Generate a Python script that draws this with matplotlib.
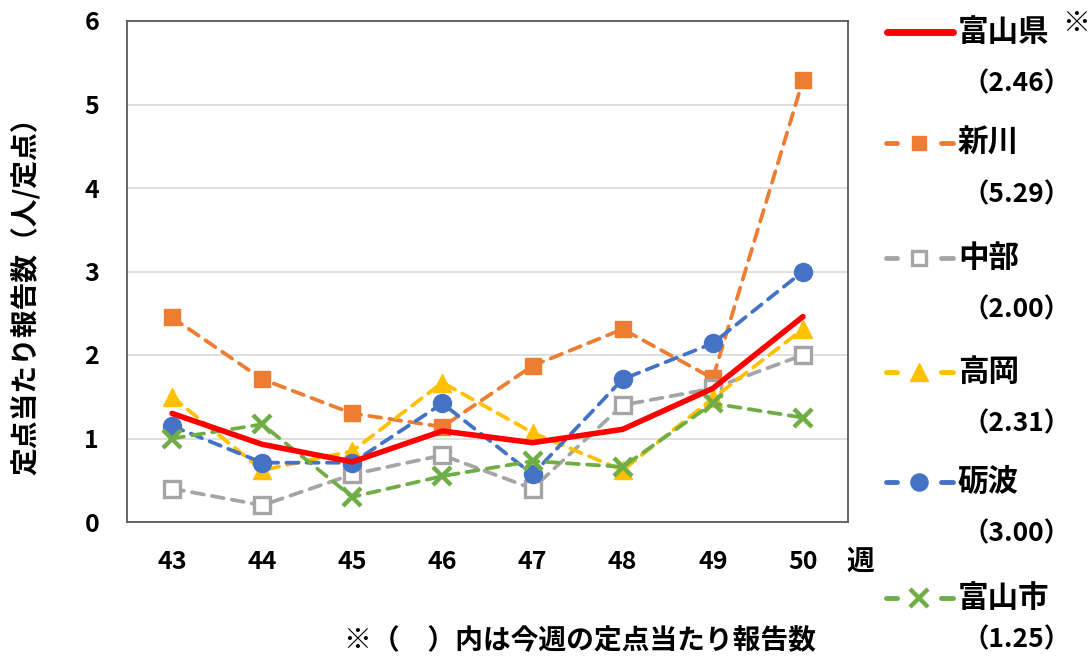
import matplotlib
matplotlib.use("Agg")
import matplotlib.pyplot as plt
from matplotlib.lines import Line2D

plt.rcParams['font.family'] = ['Noto Sans CJK JP', 'DejaVu Sans']

weeks = ["43", "44", "45", "46", "47", "48", "49", "50"]
toyama_pref = [1.30, 0.93, 0.72, 1.09, 0.95, 1.11, 1.60, 2.46]
niikawa = [2.45, 1.71, 1.30, 1.14, 1.87, 2.31, 1.72, 5.29]
chubu = [0.40, 0.20, 0.57, 0.80, 0.40, 1.40, 1.60, 2.00]
takaoka = [1.50, 0.62, 0.85, 1.67, 1.07, 0.62, 1.48, 2.31]
tonami = [1.15, 0.71, 0.71, 1.42, 0.57, 1.71, 2.14, 3.00]
toyama_city = [1.00, 1.17, 0.30, 0.55, 0.73, 0.66, 1.42, 1.25]

names = ["富山県", "新川", "中部", "高岡", "砺波", "富山市"]
latest = ["（2.46）", "（5.29）", "（2.00）", "（2.31）", "（3.00）", "（1.25）"]
ylabel = "定点当たり報告数（人/定点）"
note = "※（　）内は今週の定点当たり報告数"

series = [toyama_pref, niikawa, chubu, takaoka, tonami, toyama_city]
styles = [
    dict(color="#FF0000", lw=4.0, marker=None, solid=True),
    dict(color="#ED7D31", lw=2.7, marker="s", mfc="#ED7D31", ms=11),
    dict(color="#A5A5A5", lw=2.7, marker="s", mfc="white", ms=11, mew=2.4),
    dict(color="#FFC000", lw=2.7, marker="^", mfc="#FFC000", ms=13),
    dict(color="#4472C4", lw=2.7, marker="o", mfc="#4472C4", ms=13),
    dict(color="#70AD47", lw=2.7, marker="x", mfc="#70AD47", ms=13, mew=3.2),
]

fig = plt.figure(figsize=(10.92, 6.6), dpi=100)
ax = fig.add_axes([127/1092, 1-522/660, (848-127)/1092, (522-21)/660])

x = list(range(len(weeks)))
order = [1, 2, 3, 4, 5, 0]
for i in order:
    st = styles[i]
    kw = dict(color=st["color"], lw=st["lw"], solid_capstyle="round")
    if st.get("solid"):
        ax.plot(x, series[i], zorder=5, **kw)
    else:
        ax.plot(x, series[i], marker=st["marker"], markersize=st["ms"],
                markerfacecolor=st["mfc"], markeredgecolor=st["color"],
                markeredgewidth=st.get("mew", 1), linestyle=(0, (3.2, 2.2)),
                dash_capstyle="round", zorder=3 + i * 0.1, **kw)

ax.set_xlim(-0.5, len(weeks) - 0.5)
ax.set_ylim(0, 6)
ax.set_yticks(range(0, 7))
ax.set_xticks(x)
ax.set_xticklabels(weeks)
ax.yaxis.grid(True, color="#D9D9D9", lw=1.2)
ax.set_axisbelow(True)
for sp in ax.spines.values():
    sp.set_color("#595959")
    sp.set_linewidth(1.3)
ax.tick_params(length=0, labelsize=18)
for lab in ax.get_xticklabels() + ax.get_yticklabels():
    lab.set_fontweight("bold")
ax.tick_params(axis="y", pad=20)
ax.tick_params(axis="x", pad=20)
ax.set_ylabel(ylabel, fontsize=20, fontweight="bold")
ax.yaxis.set_label_coords(-0.12, 0.465)

fig.text(846/1092, 1-562/660, "週", fontsize=20, fontweight="bold", va="center", ha="left")
fig.text(580/1092, 1-641/660, note, fontsize=20, fontweight="bold", va="center", ha="center")
fig.text(1062/1092, 1-24/660, "※", fontsize=20, fontweight="bold", va="center", ha="left")

# manual legend
ys = [32, 143, 258, 372, 482, 598]
for i in range(6):
    st = styles[i]
    yf = 1 - ys[i] / 660
    if st.get("solid"):
        fig.add_artist(Line2D([887/1092, 953/1092], [yf, yf], color=st["color"],
                              lw=st["lw"] + 1.0, solid_capstyle="round"))
    else:
        fig.add_artist(Line2D([886/1092, 897/1092], [yf, yf], color=st["color"], lw=3.5,
                              solid_capstyle="round"))
        fig.add_artist(Line2D([941/1092, 953/1092], [yf, yf], color=st["color"], lw=3.5,
                              solid_capstyle="round"))
        fig.add_artist(Line2D([918.5/1092], [yf], marker=st["marker"], markersize=st["ms"] * 0.95,
                              markerfacecolor=st["mfc"], markeredgecolor=st["color"],
                              markeredgewidth=st.get("mew", 1), lw=0))
    fig.text(958/1092, yf, names[i], fontsize=22, fontweight="bold", va="center", ha="left")
    yv = min(ys[i] + 52, 640)
    fig.text(962/1092, 1 - yv / 660, latest[i], fontsize=19, fontweight="bold",
             va="center", ha="left")

fig.savefig("out.png", dpi=100)
